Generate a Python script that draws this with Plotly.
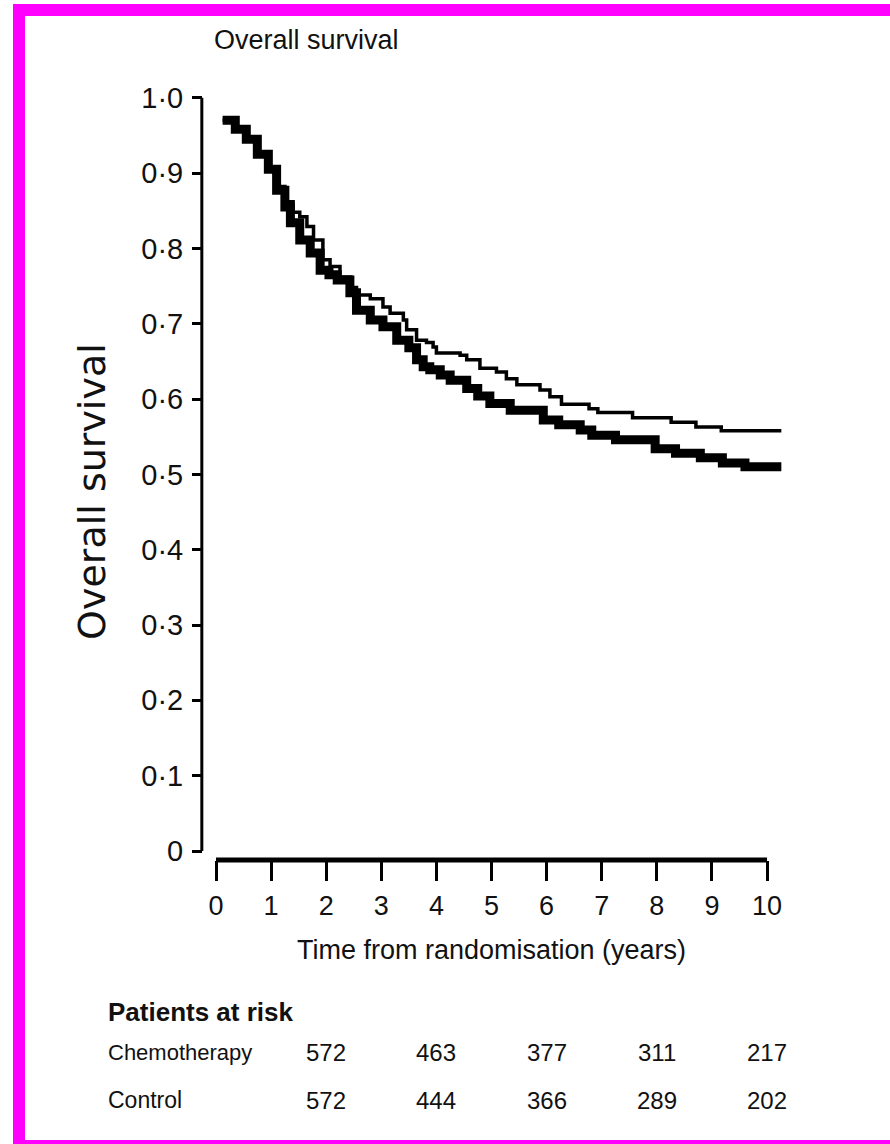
import plotly.graph_objects as go

# ---------------- data ----------------
chemo_t = [0.12, 0.35, 0.55, 0.75, 0.95, 1.1, 1.25, 1.4, 1.52, 1.65, 1.77, 1.94, 2.07, 2.25,
           2.45, 2.55, 2.8, 3.03, 3.16, 3.4, 3.46, 3.64, 3.82, 3.94, 4.0, 4.43, 4.55, 4.79,
           5.09, 5.27, 5.46, 5.88, 6.06, 6.27, 6.77, 6.93, 7.56, 8.26, 8.71, 9.17, 10.26]
chemo_s = [0.970, 0.958, 0.945, 0.925, 0.905, 0.882, 0.862, 0.848, 0.842, 0.829, 0.811, 0.785,
           0.776, 0.762, 0.748, 0.738, 0.733, 0.722, 0.714, 0.705, 0.692, 0.678, 0.675, 0.669,
           0.661, 0.658, 0.652, 0.641, 0.636, 0.627, 0.619, 0.612, 0.603, 0.593, 0.587, 0.582,
           0.575, 0.569, 0.563, 0.558, 0.558]

control_t = [0.12, 0.35, 0.55, 0.75, 0.95, 1.1, 1.25, 1.35, 1.52, 1.71, 1.89, 2.05, 2.2, 2.43,
             2.55, 2.8, 3.03, 3.28, 3.5, 3.64, 3.76, 3.88, 4.07, 4.25, 4.55, 4.75, 4.97, 5.34,
             5.94, 6.22, 6.61, 6.82, 7.25, 7.97, 8.34, 8.79, 9.19, 9.6, 10.26]
control_s = [0.970, 0.958, 0.945, 0.925, 0.905, 0.877, 0.855, 0.834, 0.811, 0.794, 0.771, 0.765,
             0.758, 0.741, 0.718, 0.705, 0.696, 0.678, 0.668, 0.652, 0.643, 0.639, 0.632, 0.625,
             0.614, 0.604, 0.594, 0.585, 0.572, 0.566, 0.559, 0.552, 0.546, 0.534, 0.528, 0.522,
             0.515, 0.510, 0.510]

x_ticks = list(range(0, 11))
y_ticks = [0, 0.1, 0.2, 0.3, 0.4, 0.5, 0.6, 0.7, 0.8, 0.9, 1.0]
y_ticktext = ["0", "0·1", "0·2", "0·3", "0·4", "0·5", "0·6", "0·7", "0·8", "0·9", "1·0"]

risk_years = [2, 4, 6, 8, 10]
risk_chemo = [572, 463, 377, 311, 217]
risk_control = [572, 444, 366, 289, 202]

# ---------------- layout geometry (pixels) ----------------
W_FIG, H_FIG = 890, 1144
L, R, T, B = 203, 790, 90, 860
PW, PH = R - L, B - T

def xp(px):
    return (px - L) / PW

def yp(py):
    return (B - py) / PH

NARROW = "Liberation Sans Narrow, Arial Narrow, Liberation Sans, Arial, sans-serif"
WIDE = "DejaVu Sans, Verdana, sans-serif"
TXT = "#111111"

fig = go.Figure()
fig.add_trace(go.Scatter(x=control_t, y=control_s, mode="lines", line_shape="hv",
                         line=dict(color="black", width=9), name="Control",
                         showlegend=False))
fig.add_trace(go.Scatter(x=chemo_t, y=chemo_s, mode="lines", line_shape="hv",
                         line=dict(color="black", width=3.5), name="Chemotherapy",
                         showlegend=False))

x_per_year = 55.1
x0_px = 216
y_per_unit = 753.3
y0_px = 851

fig.update_layout(
    width=W_FIG, height=H_FIG,
    margin=dict(l=L, r=W_FIG - R, t=T, b=H_FIG - B, pad=0),
    paper_bgcolor="white", plot_bgcolor="white",
    xaxis=dict(range=[(L - x0_px) / x_per_year, (R - x0_px) / x_per_year],
               tickvals=x_ticks, ticktext=[str(v) for v in x_ticks],
               ticks="outside", ticklen=20, tickwidth=3, tickcolor="black",
               showline=False, showgrid=False, zeroline=False,
               tickfont=dict(family=NARROW, size=27, color=TXT),
               ticklabelstandoff=2),
    yaxis=dict(range=[-(B - y0_px) / y_per_unit, 1 + (y0_px - y_per_unit - T) / y_per_unit],
               tickvals=y_ticks, ticktext=y_ticktext,
               ticks="outside", ticklen=10, tickwidth=3, tickcolor="black",
               showline=False, showgrid=False, zeroline=False,
               tickfont=dict(family=NARROW, size=29, color=TXT),
               ticklabelstandoff=3),
)

# axis lines
fig.add_shape(type="line", xref="paper", yref="y", x0=-0.002, x1=-0.002, y0=0, y1=1,
              line=dict(color="black", width=3))
fig.add_shape(type="line", xref="x", yref="paper", x0=0, x1=10, y0=0, y1=0,
              line=dict(color="black", width=5))

# magenta frame
MAG = "#FF00FF"
for (ax0, ay0, ax1, ay1) in [(13, 4, 900, 16), (13, 4, 25, 1150), (13, 1140, 900, 1150)]:
    fig.add_shape(type="rect", xref="paper", yref="paper",
                  x0=xp(ax0), x1=xp(ax1), y0=yp(ay1), y1=yp(ay0),
                  line=dict(width=0), fillcolor=MAG, layer="above")

ann = []
ann.append(dict(text="Overall survival", xref="paper", yref="paper", x=xp(212), y=yp(40),
                xanchor="left", yanchor="middle", showarrow=False,
                font=dict(family=NARROW, size=27, color=TXT)))
ann.append(dict(text="Overall survival", xref="paper", yref="paper", x=xp(92), y=yp(492),
                xanchor="center", yanchor="middle", showarrow=False, textangle=-90,
                font=dict(family=WIDE, size=38, color=TXT)))
ann.append(dict(text="Time from randomisation (years)", xref="paper", yref="paper",
                x=xp(491), y=yp(950), xanchor="center", yanchor="middle", showarrow=False,
                font=dict(family=NARROW, size=27, color=TXT)))
ann.append(dict(text="<b>Patients at risk</b>", xref="paper", yref="paper", x=xp(106),
                y=yp(1012), xanchor="left", yanchor="middle", showarrow=False,
                font=dict(family=NARROW, size=26, color=TXT)))
ann.append(dict(text="Chemotherapy", xref="paper", yref="paper", x=xp(106), y=yp(1052),
                xanchor="left", yanchor="middle", showarrow=False,
                font=dict(family=NARROW, size=22, color=TXT)))
ann.append(dict(text="Control", xref="paper", yref="paper", x=xp(106), y=yp(1100),
                xanchor="left", yanchor="middle", showarrow=False,
                font=dict(family=NARROW, size=23, color=TXT)))
for yr, a, b in zip(risk_years, risk_chemo, risk_control):
    ann.append(dict(text=str(a), xref="x", yref="paper", x=yr, y=yp(1052),
                    xanchor="center", yanchor="middle", showarrow=False,
                    font=dict(family=NARROW, size=24, color=TXT)))
    ann.append(dict(text=str(b), xref="x", yref="paper", x=yr, y=yp(1100),
                    xanchor="center", yanchor="middle", showarrow=False,
                    font=dict(family=NARROW, size=24, color=TXT)))
fig.update_layout(annotations=ann)

fig.write_html("out.html")
